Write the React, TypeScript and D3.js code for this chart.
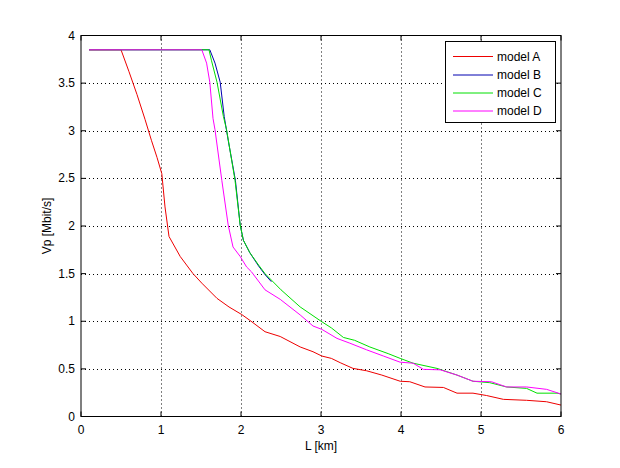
import React from "react";
import * as d3 from "d3";

const xTicks = [0, 1, 2, 3, 4, 5, 6];
const yTicks = [0, 0.5, 1, 1.5, 2, 2.5, 3, 3.5, 4];
const yTickLabels = ["0", "0.5", "1", "1.5", "2", "2.5", "3", "3.5", "4"];

const seriesNames = ["model A", "model B", "model C", "model D"];
const seriesColors = ["#ee0000", "#0000b0", "#00e000", "#ff00ff"];

const modelA: [number, number][] = [
  [0.1, 3.85], [0.5, 3.85], [0.6, 3.62], [0.7, 3.38], [0.8, 3.12], [0.88, 2.9], [0.95, 2.72],
  [1.01, 2.55], [1.05, 2.2], [1.1, 1.89], [1.24, 1.68], [1.32, 1.59], [1.4, 1.5], [1.51, 1.4],
  [1.7, 1.24], [1.85, 1.15], [2.01, 1.07], [2.11, 1.01], [2.3, 0.89], [2.49, 0.84], [2.74, 0.73],
  [2.9, 0.68], [3.01, 0.635], [3.13, 0.61], [3.24, 0.565], [3.4, 0.505], [3.57, 0.48], [3.76, 0.435],
  [3.99, 0.37], [4.11, 0.365], [4.3, 0.31], [4.53, 0.305], [4.7, 0.245], [4.9, 0.245], [5.07, 0.22],
  [5.28, 0.18], [5.57, 0.17], [5.82, 0.155], [6.0, 0.12],
];

const modelB: [number, number][] = [
  [0.1, 3.85], [1.61, 3.85], [1.675, 3.71], [1.74, 3.51], [1.79, 3.15], [1.84, 2.9], [1.93, 2.48],
  [1.99, 2.01], [2.03, 1.85], [2.11, 1.72], [2.22, 1.58], [2.3, 1.49], [2.38, 1.415],
];

const modelC: [number, number][] = [
  [0.1, 3.85], [1.6, 3.85], [1.63, 3.74], [1.7, 3.51], [1.78, 3.15], [1.82, 3.01], [1.925, 2.48],
  [1.99, 2.01], [2.03, 1.85], [2.11, 1.72], [2.22, 1.59], [2.3, 1.5], [2.5, 1.33], [2.74, 1.15],
  [3.01, 0.995], [3.13, 0.93], [3.28, 0.83], [3.42, 0.8], [3.61, 0.73], [3.84, 0.66], [3.99, 0.61],
  [4.15, 0.56], [4.45, 0.505], [4.7, 0.435], [4.9, 0.37], [5.11, 0.355], [5.32, 0.31], [5.57, 0.295],
  [5.7, 0.245], [5.95, 0.245], [6.0, 0.236],
];

const modelD: [number, number][] = [
  [0.1, 3.85], [1.51, 3.85], [1.57, 3.71], [1.61, 3.51], [1.65, 3.13], [1.675, 3.01], [1.76, 2.48],
  [1.84, 2.01], [1.9, 1.78], [1.99, 1.68], [2.07, 1.57], [2.13, 1.52], [2.3, 1.33], [2.49, 1.23],
  [2.74, 1.066], [2.9, 0.95], [3.01, 0.915], [3.2, 0.82], [3.36, 0.77], [3.57, 0.7], [3.78, 0.635],
  [3.99, 0.57], [4.15, 0.56], [4.28, 0.495], [4.49, 0.49], [4.7, 0.435], [4.9, 0.37], [5.13, 0.365],
  [5.32, 0.31], [5.57, 0.31], [5.82, 0.285], [6.0, 0.236],
];

const allSeries = [modelA, modelB, modelC, modelD];

const W = 620;
const H = 468;
const left = 81;
const right = 561;
const top = 35.5;
const bottom = 416.5;

export default function App() {
  const x = d3.scaleLinear().domain([0, 6]).range([left, right]);
  const y = d3.scaleLinear().domain([0, 4]).range([bottom, top]);
  const line = d3
    .line<[number, number]>()
    .x((d) => x(d[0]))
    .y((d) => y(d[1]));
  const font = "'Liberation Sans', Arial, sans-serif";
  const tickLen = 5;
  const fs = 12;

  const legX = 445.5;
  const legY = 41.5;
  const legW = 110;
  const legH = 81;
  const rowY = [56.5, 75, 93, 111];

  return (
    <svg
      width={W}
      height={H}
      style={{ position: "absolute", left: 0, top: 0, background: "#fff" }}
      fontFamily={font}
    >
      <rect x={0} y={0} width={W} height={H} fill="#fff" />
      {xTicks.slice(1, -1).map((t) => (
        <line key={"gx" + t} x1={Math.round(x(t)) + 0.5} x2={Math.round(x(t)) + 0.5} y1={top} y2={bottom}
          stroke="#000" strokeWidth={1} strokeDasharray="1,3" />
      ))}
      {yTicks.slice(1, -1).map((t) => (
        <line key={"gy" + t} y1={Math.round(y(t)) + 0.5} y2={Math.round(y(t)) + 0.5} x1={left} x2={right}
          stroke="#000" strokeWidth={1} strokeDasharray="1,3" />
      ))}
      {allSeries.map((s, i) => (
        <path key={"s" + i} d={line(s) || ""} fill="none" stroke={seriesColors[i]} strokeWidth={1} />
      ))}
      <rect x={left} y={top} width={right - left} height={bottom - top} fill="none" stroke="#000" strokeWidth={1} />
      {xTicks.map((t) => (
        <g key={"tx" + t}>
          <line x1={x(t)} x2={x(t)} y1={bottom} y2={bottom - tickLen} stroke="#000" />
          <line x1={x(t)} x2={x(t)} y1={top} y2={top + tickLen} stroke="#000" />
          <text x={x(t)} y={bottom + 17} fontSize={fs} textAnchor="middle" fill="#000">
            {t}
          </text>
        </g>
      ))}
      {yTicks.map((t, i) => (
        <g key={"ty" + t}>
          <line x1={left} x2={left + tickLen} y1={y(t)} y2={y(t)} stroke="#000" />
          <line x1={right} x2={right - tickLen} y1={y(t)} y2={y(t)} stroke="#000" />
          <text x={left - 6} y={y(t) + 4} fontSize={fs} textAnchor="end" fill="#000">
            {yTickLabels[i]}
          </text>
        </g>
      ))}
      <text x={(left + right) / 2} y={450} fontSize={fs} textAnchor="middle" fill="#000">
        L [km]
      </text>
      <text
        transform={`translate(51,${(top + bottom) / 2}) rotate(-90)`}
        fontSize={fs}
        textAnchor="middle"
        fill="#000"
      >
        Vp [Mbit/s]
      </text>
      <rect x={legX} y={legY} width={legW} height={legH} fill="#fff" stroke="#000" strokeWidth={1} />
      {seriesNames.map((n, i) => (
        <g key={"l" + i}>
          <line x1={453} x2={493} y1={rowY[i]} y2={rowY[i]} stroke={seriesColors[i]} strokeWidth={1} />
          <text x={497} y={rowY[i] + 4} fontSize={fs} fill="#000">
            {n}
          </text>
        </g>
      ))}
    </svg>
  );
}
